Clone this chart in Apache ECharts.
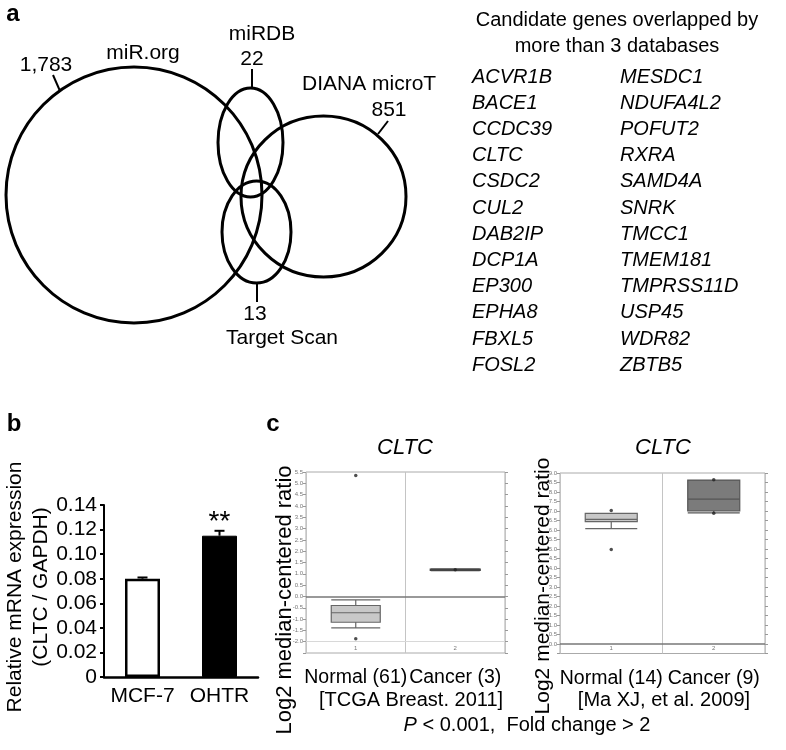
<!DOCTYPE html>
<html><head><meta charset="utf-8">
<script src="https://cdn.jsdelivr.net/npm/echarts@6/dist/echarts.min.js"></script>
<style>html,body{margin:0;padding:0;background:#fff}#main{width:786px;height:750px}</style>
</head><body><div id="main"></div>
<script>
// ---------- Panel a ----------
const vennSets = ['miR.org', 'miRDB', 'DIANA microT', 'Target Scan'];
const vennCounts = ['1,783', '22', '851', '13'];
const geneTitle = ['Candidate genes overlapped by', 'more than 3 databases'];
const genesCol1 = ['ACVR1B','BACE1','CCDC39','CLTC','CSDC2','CUL2','DAB2IP','DCP1A','EP300','EPHA8','FBXL5','FOSL2'];
const genesCol2 = ['MESDC1','NDUFA4L2','POFUT2','RXRA','SAMD4A','SNRK','TMCC1','TMEM181','TMPRSS11D','USP45','WDR82','ZBTB5'];
// ---------- Panel b ----------
const barCategories = ['MCF-7', 'OHTR'];
const barMeans = [0.080, 0.115];
const barErrors = [0.001, 0.004];
const barSig = ['', '**'];
const barAxisTitle = ['Relative mRNA expression', '(CLTC / GAPDH)'];
// ---------- Panel c ----------
const geneName = 'CLTC';
const boxAxisTitle = 'Log2 median-centered ratio';
const boxCats1 = ['Normal (61)', 'Cancer (3)'];
const boxIdx1 = ['1', '2'];
const boxStats1 = [[-1.39, -1.14, -0.72, -0.40, -0.15], [1.16, 1.17, 1.18, 1.19, 1.20]];
const boxPoints1 = [[0, 5.35], [0, -1.87], [1, 1.18]];
const boxSource1 = '[TCGA Breast. 2011]';
const boxCats2 = ['Normal (14)', 'Cancer (9)'];
const boxIdx2 = ['1', '2'];
const boxStats2 = [[6.07, 6.44, 6.56, 6.88, 6.88], [6.90, 7.00, 7.62, 8.63, 8.63]];
const boxPoints2 = [[0, 7.02], [0, 4.98], [1, 8.65], [1, 6.88]];
const boxSource2 = '[Ma XJ, et al. 2009]';

const FF = '"Liberation Sans", Arial, sans-serif';
const chart = echarts.init(document.getElementById('main'), null, {renderer: 'canvas'});

function txt(x, y, text, size, opts) {
  opts = opts || {};
  return {type: 'text', x: x, y: y, rotation: opts.rotation || 0,
    style: {text: text, fontSize: size, fontFamily: FF, fontStyle: opts.italic ? 'italic' : 'normal',
      fontWeight: opts.bold ? 'bold' : 'normal', fill: '#000', align: opts.align || 'center',
      verticalAlign: 'middle', lineHeight: opts.lineHeight || size * 1.2, rich: opts.rich}};
}
function seg(x1, y1, x2, y2) {
  return {type: 'line', shape: {x1, y1, x2, y2}, style: {stroke: '#000', lineWidth: 2}};
}
function ell(cx, cy, rx, ry) {
  return {type: 'ellipse', shape: {cx, cy, rx, ry}, style: {fill: 'none', stroke: '#000', lineWidth: 3}};
}

const graphics = [
  txt(13, 14, 'a', 24, {bold: true}),
  txt(14, 424, 'b', 24, {bold: true}),
  txt(273, 424, 'c', 24, {bold: true}),
  // Venn
  ell(134, 195, 128, 128),
  ell(250.5, 142.5, 32.5, 54.5),
  ell(323.5, 196.5, 82.5, 80.5),
  ell(256.5, 232, 34.5, 51),
  txt(143, 53, vennSets[0], 21),
  txt(46, 65, vennCounts[0], 21),
  seg(53, 75, 60, 91),
  txt(262, 34, vennSets[1], 21),
  txt(252, 59, vennCounts[1], 21),
  seg(252, 69, 252, 88),
  txt(302, 84, vennSets[2], 21, {align: 'left'}),
  txt(389, 110, vennCounts[2], 21),
  seg(388, 121, 378, 134),
  txt(255, 314, vennCounts[3], 21),
  seg(257, 283, 257, 302),
  txt(282, 338, vennSets[3], 21),
  // gene list
  txt(617, 20, geneTitle[0], 20),
  txt(617, 46, geneTitle[1], 20),
  // bar axis title
  txt(28, 587, barAxisTitle.join('\n'), 21, {rotation: Math.PI / 2, lineHeight: 26}),
  // boxplot titles
  txt(405, 448, geneName, 22, {italic: true}),
  txt(663, 448, geneName, 22, {italic: true}),
  txt(285, 600, boxAxisTitle, 22, {rotation: Math.PI / 2}),
  txt(543, 586, boxAxisTitle, 21, {rotation: Math.PI / 2}),
  txt(411, 700, boxSource1, 20),
  txt(664, 700, boxSource2, 20),
  txt(527, 725, '{i|P} < 0.001,  Fold change > 2', 20, {rich: {i: {fontStyle: 'italic', fontSize: 20, fontFamily: FF}}})
];
genesCol1.forEach((g, i) => graphics.push(txt(472, 77 + i * 26.2, g, 20, {italic: true, align: 'left'})));
genesCol2.forEach((g, i) => graphics.push(txt(620, 77 + i * 26.2, g, 20, {italic: true, align: 'left'})));

function boxYAxis(grid, min, max, minLabel, right) {
  return {type: 'value', gridIndex: grid, min: min, max: max, interval: 0.5, position: right ? 'right' : 'left',
    axisLine: {show: false}, splitLine: {show: false},
    axisTick: {show: true, length: 3, lineStyle: {color: '#999', width: 1}},
    axisLabel: {show: !right, fontSize: 6, color: '#777', margin: 3, fontFamily: FF,
      formatter: v => (v < minLabel - 1e-6 ? '' : v.toFixed(1))}};
}
function boxXAxes(grid, cats, idx) {
  return [
    {type: 'category', gridIndex: grid, data: cats, position: 'bottom',
      axisLine: {show: false}, axisTick: {show: false},
      axisLabel: {interval: 0, fontSize: 19.5, color: '#000', margin: 15, fontFamily: FF, hideOverlap: false},
      splitLine: {show: true, interval: 0, lineStyle: {color: '#c4c4c4', width: 1}}},
    {type: 'category', gridIndex: grid, data: idx, position: 'bottom',
      axisLine: {show: false}, axisTick: {show: false}, splitLine: {show: false},
      axisLabel: {inside: true, interval: 0, fontSize: 6, color: '#777', margin: 2, fontFamily: FF}}
  ];
}
const zeroLine = (extra) => ({silent: true, symbol: 'none', label: {show: false},
  data: [{yAxis: 0, lineStyle: {color: '#777', width: 1.5, type: 'solid'}}].concat(extra || [])});

const option = {
  animation: false,
  backgroundColor: '#fff',
  textStyle: {fontFamily: FF},
  grid: [
    {left: 104, top: 505, right: 528, bottom: 73, outerBoundsMode: 'none'},
    {left: 306, top: 472, right: 281, bottom: 97, show: true, borderColor: '#aaa', borderWidth: 1, outerBoundsMode: 'none'},
    {left: 560, top: 473, right: 21, bottom: 96.5, show: true, borderColor: '#aaa', borderWidth: 1, outerBoundsMode: 'none'}
  ],
  xAxis: [
    {type: 'category', gridIndex: 0, data: barCategories,
      axisLine: {lineStyle: {color: '#000', width: 2.5}}, axisTick: {show: false},
      axisLabel: {interval: 0, hideOverlap: false, fontSize: 21, color: '#000', margin: 9, fontFamily: FF}}
  ].concat(boxXAxes(1, boxCats1, boxIdx1), boxXAxes(2, boxCats2, boxIdx2)),
  yAxis: [
    {type: 'value', gridIndex: 0, min: 0, max: 0.14, interval: 0.02,
      axisLine: {show: true, lineStyle: {color: '#000', width: 2}},
      axisTick: {show: true, length: 4, lineStyle: {color: '#000', width: 2}},
      splitLine: {show: false},
      axisLabel: {fontSize: 21, color: '#000', margin: 7, fontFamily: FF,
        formatter: v => (v === 0 ? '0' : v.toFixed(2))}},
    boxYAxis(1, -2.5, 5.5, -2.0, false),
    boxYAxis(1, -2.5, 5.5, -2.0, true),
    boxYAxis(2, -0.5, 9.0, 0, false),
    boxYAxis(2, -0.5, 9.0, 0, true)
  ],
  series: [
    {type: 'bar', xAxisIndex: 0, yAxisIndex: 0, barWidth: 35,
      data: barMeans.map((v, i) => ({value: v, itemStyle: i === 0
        ? {color: '#fff', borderColor: '#000', borderWidth: 2.5}
        : {color: '#000', borderColor: '#000', borderWidth: 1}}))},
    {type: 'custom', xAxisIndex: 0, yAxisIndex: 0, z: 5,
      data: barMeans.map((m, i) => [i, m, barErrors[i]]),
      renderItem: function (params, api) {
        const x = api.value(0), m = api.value(1), e = api.value(2);
        const p0 = api.coord([x, m]), p1 = api.coord([x, m + e]);
        const children = [
          {type: 'line', shape: {x1: p0[0], y1: p0[1], x2: p1[0], y2: p1[1]}, style: {stroke: '#000', lineWidth: 2}},
          {type: 'line', shape: {x1: p1[0] - 5, y1: p1[1], x2: p1[0] + 5, y2: p1[1]}, style: {stroke: '#000', lineWidth: 2}}
        ];
        const s = barSig[params.dataIndex];
        if (s) children.push({type: 'text', style: {text: s, x: p1[0], y: p1[1] - 9, align: 'center',
          verticalAlign: 'middle', fontSize: 28, fontFamily: FF, fill: '#000'}});
        return {type: 'group', children: children};
      }},
    {type: 'boxplot', xAxisIndex: 1, yAxisIndex: 1, boxWidth: [49, 49],
      data: [
        {value: boxStats1[0], itemStyle: {color: '#c8c8c8', borderColor: '#666', borderWidth: 1.2}},
        {value: boxStats1[1], itemStyle: {color: '#555', borderColor: '#444', borderWidth: 2.2}}
      ],
      markLine: zeroLine([{yAxis: -2.0, lineStyle: {color: '#d8d8d8', width: 1, type: 'solid'}}])},
    {type: 'scatter', xAxisIndex: 1, yAxisIndex: 1, symbolSize: 3.5, itemStyle: {color: '#222'}, data: boxPoints1, z: 4},
    {type: 'boxplot', xAxisIndex: 3, yAxisIndex: 3, boxWidth: [52, 52],
      data: [
        {value: boxStats2[0], itemStyle: {color: '#c8c8c8', borderColor: '#666', borderWidth: 1.2}},
        {value: boxStats2[1], itemStyle: {color: '#7b7b7b', borderColor: '#555', borderWidth: 1.2}}
      ],
      markLine: zeroLine()},
    {type: 'scatter', xAxisIndex: 3, yAxisIndex: 3, symbolSize: 3.5, itemStyle: {color: '#222'}, data: boxPoints2, z: 4}
  ],
  graphic: {elements: graphics}
};
chart.setOption(option);
</script>
</body></html>
